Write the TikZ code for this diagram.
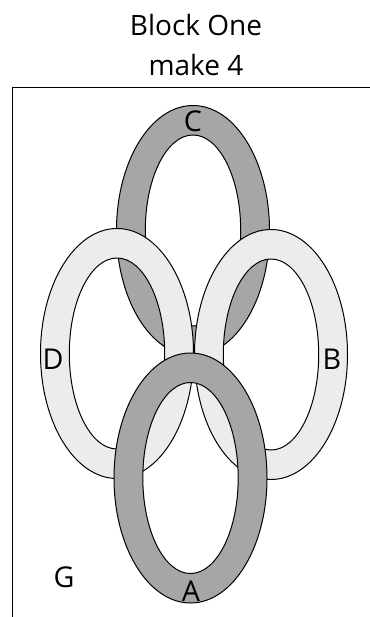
\documentclass[tikz,border=0pt]{standalone}
\usepackage{fontspec}
\setmainfont{Open Sans}
\definecolor{ringdark}{HTML}{A6A6A5}
\definecolor{ringlight}{HTML}{ECECEC}
\tikzset{
    ring/.style={draw=black, line width=0.75pt, even odd rule},
    lettertext/.style={inner sep=0pt, font=\fontsize{21.5}{24}\selectfont},
    titletext/.style={inner sep=0pt, align=center, font=\fontsize{21}{30}\selectfont},
}
\begin{document}
\begin{tikzpicture}[x=0.75pt, y=-0.75pt]
    \useasboundingbox (0, 0) rectangle (370, 617);
    \fill[white] (0, 0) rectangle (370, 617);
    \draw[line width=0.75pt] (12.5, 617) -- (12.5, 87.5) -- (370, 87.5);
    \foreach \x/\y/\shade in {193/230.5/ringdark, 117/353.5/ringlight, 271/354.5/ringlight, 190.5/478/ringdark} {
        \fill[ring, fill=\shade]
            (\x, \y) ellipse [x radius=76.5, y radius=125]
            (\x, \y) ellipse [x radius=47.7, y radius=95.5];
    }
    \node[titletext] (title) at (196, 45) {Block One\\make 4};
    \node[lettertext] (labelC) at (193, 121) {C};
    \node[lettertext] (labelD) at (53, 359) {D};
    \node[lettertext] (labelB) at (332, 359) {B};
    \node[lettertext] (labelA) at (191, 591) {A};
    \node[lettertext] (labelG) at (64, 577) {G};
\end{tikzpicture}
\end{document}
